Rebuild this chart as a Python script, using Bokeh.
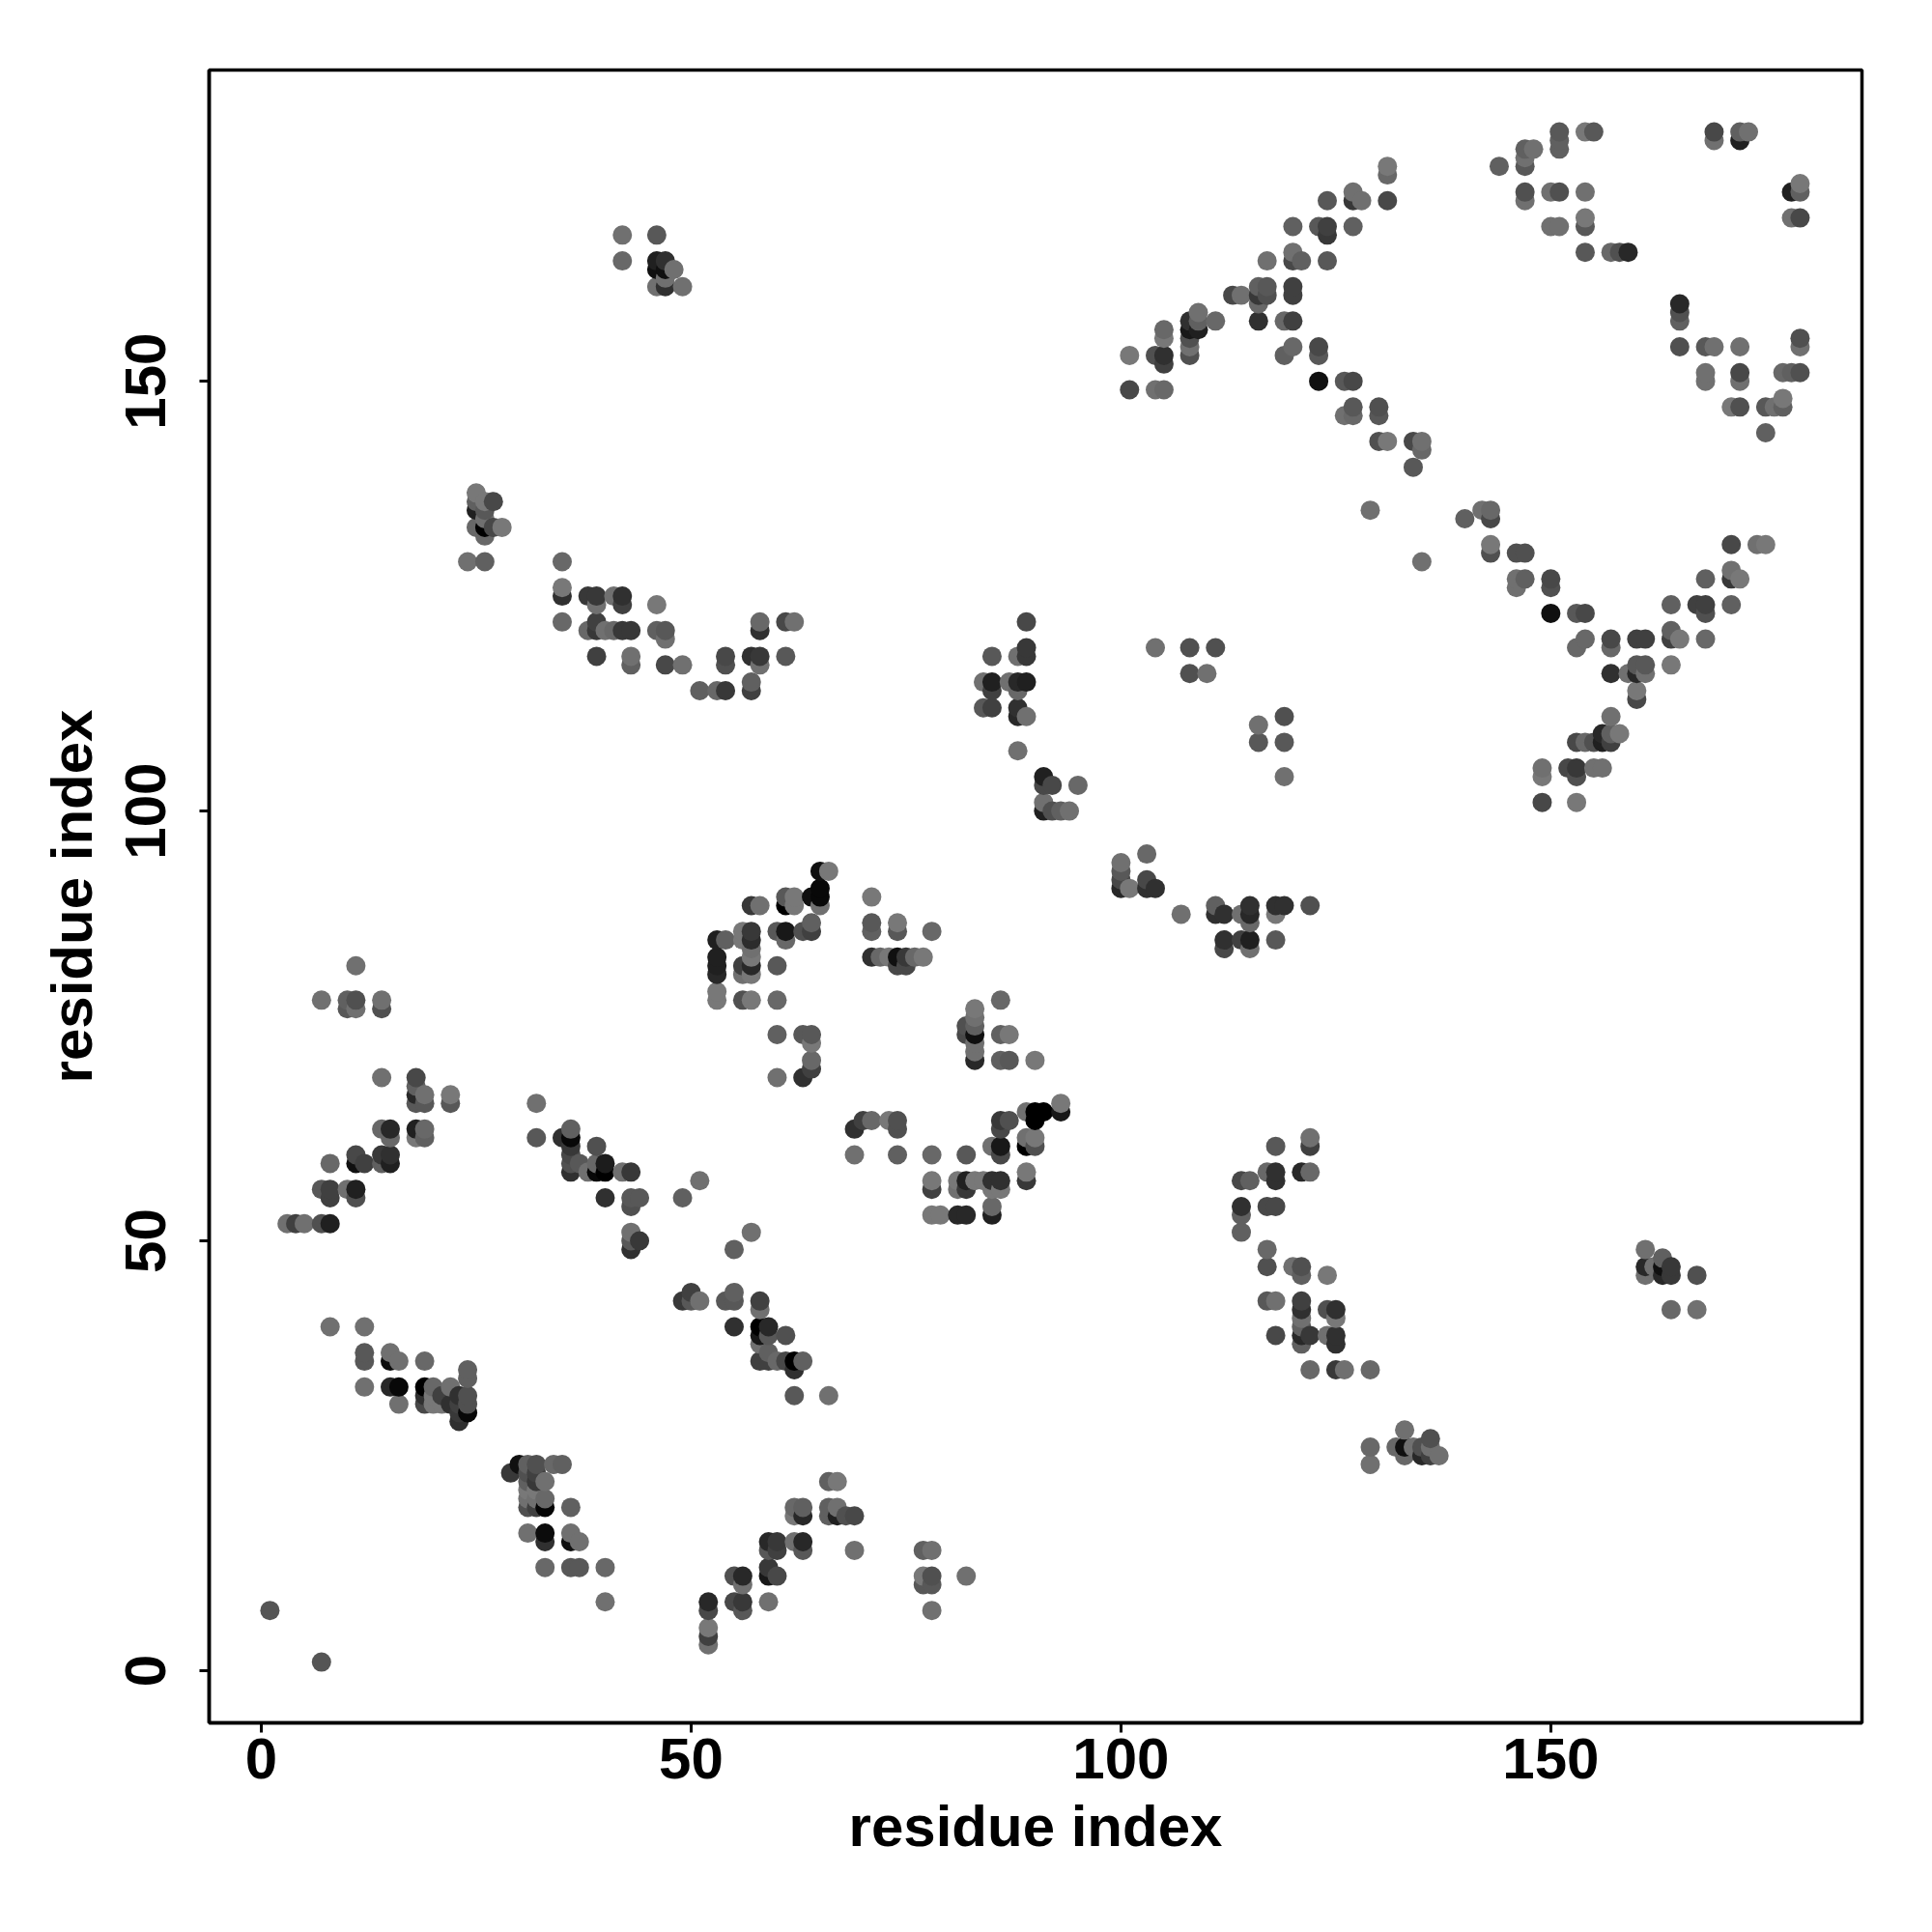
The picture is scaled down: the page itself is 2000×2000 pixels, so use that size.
from bokeh.plotting import figure
from bokeh.models import ColumnDataSource, FixedTicker
from bokeh.embed import file_html
from bokeh.resources import INLINE

AXIS_TICKS = [0, 50, 100, 150]
AXIS_LABEL = "residue index"

# each contact: (residue i, residue j, grey level)
isolated = [(1,7,0x55),(7,1,0x55)]
band_a = [
 (30,24,0x10),(31,24,0x60),(32,24,0x50),(34,24,0x68),(35,24,0x60),(29,23,0x38),(31,23,0x50),(32,23,0x40),
 (31,22,0x60),(32,22,0x38),(33,22,0x70),(31,21,0x78),(32,21,0x78),(31,20,0x70),(32,20,0x70),(33,20,0x68),
 (31,19,0x50),(32,19,0x40),(33,19,0x05),(36,19,0x60),(31,16,0x70),(33,16,0x0c),(36,16,0x70),
 (33,15,0x30),(36,15,0x10),(37,15,0x70),(33,12,0x68),(36,12,0x58),(37,12,0x58),(40,12,0x68),(40,8,0x70),
]
band_b = [
 (8,40,0x70),(12,40,0x70),(12,37,0x58),(15,37,0x70),(12,36,0x58),(15,36,0x0c),(16,36,0x70),(19,36,0x68),
 (24,35,0x60),(24,34,0x60),(12,33,0x70),(15,33,0x28),(16,33,0x08),(19,33,0x00),(20,33,0x68),(22,33,0x70),
 (19,32,0x30),(20,32,0x78),(21,32,0x40),(23,32,0x30),(24,32,0x50),
 (16,31,0x70),(19,31,0x48),(20,31,0x78),(21,31,0x78),(22,31,0x30),(23,31,0x40),(24,31,0x50),
 (23,30,0x38),(24,30,0x08),(23,29,0x30),
]
band_c = [
 (14,69,0x70),(18,69,0x48),(18,68,0x60),(18,67,0x28),(19,67,0x70),(22,67,0x78),(18,66,0x58),(19,66,0x58),(22,66,0x58),
 (14,63,0x68),(15,63,0x28),(18,63,0x20),(19,63,0x68),(15,62,0x68),(18,62,0x78),(19,62,0x60),
 (11,60,0x48),(14,60,0x38),(15,60,0x30),(8,59,0x68),(11,59,0x10),(12,59,0x40),(14,59,0x60),(15,59,0x20),
 (7,56,0x58),(8,56,0x40),(10,56,0x70),(11,56,0x20),(8,55,0x40),(11,55,0x50),
 (3,52,0x70),(4,52,0x40),(5,52,0x70),(7,52,0x50),(8,52,0x20),
]
band_d = [
 (32,66,0x70),(32,62,0x58),(35,62,0x30),(36,63,0x60),(36,62,0x08),(36,61,0x38),(39,61,0x50),(36,60,0x48),
 (36,59,0x50),(37,59,0x58),(39,59,0x68),(40,59,0x1c),(36,58,0x30),(38,58,0x70),(39,58,0x08),(40,58,0x00),(42,58,0x70),(43,58,0x38),
 (40,55,0x30),(43,55,0x58),(44,55,0x58),(43,54,0x50),(43,51,0x70),(43,50,0x58),(44,50,0x38),(43,49,0x30),
 (49,55,0x60),(51,57,0x70),(55,49,0x60),(57,51,0x70),
]
band_e = [
 (50,44,0x40),(49,43,0x38),(50,43,0x58),(51,43,0x70),(54,43,0x58),(55,44,0x60),(55,43,0x58),(58,43,0x40),(58,42,0x70),
 (55,40,0x30),(58,40,0x00),(59,40,0x28),(58,39,0x18),(59,39,0x58),(61,39,0x50),(58,38,0x70),(59,37,0x60),
 (58,36,0x40),(59,36,0x40),(60,36,0x68),(61,36,0x48),(62,36,0x00),(63,36,0x60),(62,35,0x30),(62,32,0x58),(66,32,0x70),
]
band_f = [
 (66,22,0x60),(67,22,0x78),(62,19,0x68),(63,19,0x60),(66,19,0x60),(67,19,0x70),
 (62,18,0x78),(63,18,0x28),(66,18,0x60),(67,18,0x20),(68,18,0x50),(69,18,0x48),
 (59,15,0x28),(60,15,0x38),(62,15,0x70),(63,15,0x28),(59,14,0x58),(60,14,0x40),(63,14,0x58),(69,14,0x70),(77,14,0x60),(78,14,0x70),
 (59,12,0x38),(55,11,0x50),(56,11,0x28),(59,11,0x18),(60,11,0x48),(77,11,0x78),(78,11,0x50),(82,11,0x70),
 (56,10,0x70),(77,10,0x58),(78,10,0x58),(52,8,0x28),(55,8,0x48),(56,8,0x38),(59,8,0x70),
 (52,7,0x48),(56,7,0x58),(78,7,0x70),(52,5,0x78),(52,4,0x40),(52,3,0x70),
]
band_g = [
 (65,93,0x10),(66,93,0x78),(65,91,0x08),(64,90,0x10),(65,90,0x08),(71,90,0x78),(61,90,0x58),(62,90,0x78),
 (57,89,0x38),(58,89,0x70),(61,89,0x00),(62,89,0x78),(65,89,0x70),(64,87,0x60),(71,87,0x58),(74,87,0x78),
 (56,86,0x78),(57,86,0x38),(60,86,0x58),(61,86,0x18),(63,86,0x50),(64,86,0x40),(71,86,0x60),(74,86,0x58),(78,86,0x68),
 (53,85,0x20),(54,85,0x60),(56,85,0x78),(57,85,0x2c),(61,85,0x68),(57,84,0x70),
 (53,83,0x20),(57,83,0x78),(71,83,0x30),(72,83,0x68),(73,83,0x78),(74,83,0x10),(75,83,0x38),(76,83,0x68),(77,83,0x78),
 (53,82,0x20),(56,82,0x40),(57,82,0x28),(60,82,0x58),(74,82,0x48),(75,82,0x48),
 (53,81,0x28),(56,81,0x70),(57,81,0x78),(53,79,0x78),(53,78,0x78),(56,78,0x50),(57,78,0x78),(60,78,0x68),
 (60,74,0x60),(63,74,0x58),(64,74,0x58),(64,73,0x78),(64,71,0x68),(64,70,0x40),(60,69,0x70),(63,69,0x30),
]
band_h = [
 (86,78,0x68),(83,77,0x78),(83,76,0x70),(82,75,0x50),(83,75,0x60),(82,74,0x48),(83,74,0x10),(86,74,0x60),(87,74,0x78),
 (83,73,0x70),(83,72,0x70),(83,71,0x28),(86,71,0x60),(87,71,0x58),(90,71,0x78),
 (93,66,0x78),(89,65,0x70),(90,65,0x00),(91,65,0x00),(93,65,0x18),(70,64,0x40),(71,64,0x68),(73,64,0x78),(74,64,0x50),
 (86,64,0x38),(87,64,0x50),(90,64,0x00),(69,63,0x30),(74,63,0x50),(86,63,0x48),
 (89,62,0x70),(90,62,0x78),(85,61,0x70),(86,61,0x18),(89,61,0x00),(90,61,0x50),
 (69,60,0x70),(74,60,0x60),(78,60,0x68),(82,60,0x58),(86,60,0x48),(89,58,0x78),
 (78,57,0x78),(81,57,0x78),(82,57,0x20),(83,57,0x78),(84,57,0x78),(85,57,0x30),(86,57,0x30),(89,57,0x38),
 (78,56,0x40),(81,56,0x70),(82,56,0x38),(85,56,0x78),(86,56,0x78),(85,54,0x68),
 (78,53,0x78),(79,53,0x78),(81,53,0x28),(82,53,0x28),(85,53,0x20),
]
band_i = [
 (42,167,0x70),(46,167,0x58),(42,164,0x68),(46,164,0x20),(47,164,0x30),(46,163,0x10),(47,163,0x10),(48,163,0x70),
 (47,162,0x70),(46,161,0x70),(47,161,0x30),(49,161,0x70),
 (25,137,0x78),(25,136,0x60),(25,135,0x20),(27,136,0x48),(26,136,0x78),(26,135,0x58),(25,133,0x68),(26,133,0x00),
 (27,133,0x48),(28,133,0x78),(26,134,0x70),(26,132,0x68),(24,129,0x70),(26,129,0x60),
 (11,82,0x70),(7,78,0x70),(10,78,0x60),(11,78,0x50),(14,78,0x70),(10,77,0x58),(11,77,0x70),(14,77,0x50),
]
band_j = [
 (35,129,0x68),(35,126,0x78),(35,125,0x30),(35,122,0x68),(38,125,0x38),(39,125,0x38),(39,124,0x70),(41,125,0x70),(42,125,0x30),(42,124,0x40),(46,124,0x78),
 (39,122,0x40),(38,121,0x68),(39,121,0x38),(40,121,0x70),(41,121,0x68),(42,121,0x38),(43,121,0x38),(46,121,0x60),(47,121,0x58),(47,120,0x70),
 (39,118,0x40),(43,118,0x70),(43,117,0x60),(47,117,0x48),(49,117,0x70),(54,118,0x48),(54,117,0x50),(57,118,0x30),(58,118,0x38),(58,117,0x70),
 (58,122,0x68),(58,121,0x30),(61,122,0x48),(62,122,0x70),(61,118,0x58),
 (51,114,0x60),(53,114,0x68),(54,114,0x38),(57,115,0x60),(57,114,0x40),
]
band_k = [
 (89,122,0x48),(85,118,0x58),(88,118,0x70),(89,119,0x38),(89,118,0x38),(84,115,0x70),(85,115,0x20),(87,115,0x70),(88,115,0x28),(89,115,0x20),
 (85,114,0x40),(88,114,0x68),(84,112,0x58),(85,112,0x40),(88,112,0x30),(88,111,0x28),(89,111,0x70),(88,107,0x70),
 (91,104,0x20),(91,103,0x48),(92,103,0x48),(95,103,0x68),(91,101,0x70),(91,100,0x20),(92,100,0x50),(93,100,0x60),(94,100,0x70),
 (100,94,0x70),(100,93,0x58),(100,92,0x48),(100,91,0x28),(101,91,0x78),(103,95,0x68),(103,92,0x48),(103,91,0x30),(104,91,0x30),
 (107,88,0x70),(111,89,0x60),(111,88,0x30),(112,88,0x30),(114,88,0x70),(115,89,0x30),(115,88,0x28),(115,87,0x68),(118,89,0x30),(118,88,0x78),(119,89,0x30),(122,89,0x50),
 (112,85,0x30),(112,84,0x48),(114,85,0x40),(115,85,0x20),(115,84,0x70),(118,85,0x58),
 (104,119,0x70),(108,119,0x50),(111,119,0x50),(108,116,0x50),(110,116,0x70),
 (116,110,0x70),(119,111,0x50),(116,108,0x58),(119,108,0x58),(119,104,0x70),(129,135,0x70),(135,129,0x70),
]
band_l = [
 (131,175,0x78),(144,175,0x60),(131,174,0x68),(127,172,0x70),(124,171,0x58),(127,171,0x38),(128,171,0x70),(131,171,0x48),
 (120,168,0x60),(123,168,0x58),(124,168,0x40),(127,168,0x60),(124,167,0x38),(120,165,0x70),
 (117,164,0x70),(120,164,0x48),(121,164,0x60),(124,164,0x58),(116,161,0x60),(117,161,0x58),(120,161,0x40),
 (113,160,0x48),(114,160,0x70),(116,160,0x38),(117,160,0x50),(120,160,0x40),(116,159,0x68),(109,158,0x70),
 (108,157,0x30),(109,157,0x60),(111,157,0x68),(116,157,0x30),(119,157,0x68),(120,157,0x40),
 (105,156,0x68),(108,156,0x18),(109,156,0x20),(105,155,0x78),(108,155,0x50),(108,154,0x70),(120,154,0x68),(123,154,0x48),
 (101,153,0x78),(104,153,0x50),(105,153,0x30),(108,153,0x50),(119,153,0x60),(123,153,0x58),(105,152,0x40),
 (123,150,0x10),(126,150,0x58),(127,150,0x48),(101,149,0x48),(104,149,0x70),(105,149,0x68),
 (127,147,0x58),(130,147,0x50),(126,146,0x70),(127,146,0x68),(130,146,0x58),
 (130,143,0x50),(131,143,0x78),(134,143,0x48),(135,143,0x70),(135,142,0x68),(134,140,0x58),
]
band_m = [
 (142,135,0x70),(143,135,0x68),(140,134,0x60),(143,134,0x48),(143,131,0x78),(171,131,0x48),(174,131,0x70),(175,131,0x78),
 (143,130,0x50),(146,130,0x50),(147,130,0x50),(171,128,0x70),(146,127,0x70),(147,127,0x60),(150,127,0x48),(168,127,0x60),(171,127,0x38),(172,127,0x78),
 (146,126,0x70),(150,126,0x50),(164,124,0x60),(167,124,0x40),(168,124,0x40),(171,124,0x60),
 (150,123,0x10),(153,123,0x58),(154,123,0x48),(168,123,0x50),(164,121,0x60),
 (154,120,0x68),(157,120,0x48),(160,120,0x40),(161,120,0x40),(164,120,0x40),(165,120,0x78),(168,120,0x68),
 (153,119,0x68),(157,119,0x68),(160,117,0x58),(161,117,0x58),(164,117,0x78),
 (157,116,0x30),(159,116,0x70),(160,116,0x28),(161,116,0x70),(160,114,0x78),(160,113,0x48),(157,111,0x70),
 (156,109,0x28),(157,109,0x60),(158,109,0x78),(156,108,0x20),(157,108,0x40),(155,108,0x50),(154,108,0x68),(153,108,0x48),
 (149,105,0x70),(152,105,0x48),(153,105,0x38),(155,105,0x70),(156,105,0x70),(149,104,0x78),(153,104,0x50),(149,101,0x48),(153,101,0x78),
]
band_n = [
 (151,179,0x58),(151,178,0x60),(151,177,0x60),(154,179,0x78),(155,179,0x58),(147,177,0x60),(148,177,0x70),(147,176,0x70),(147,175,0x58),
 (147,172,0x50),(147,171,0x70),(150,172,0x70),(151,172,0x50),(154,172,0x70),(150,168,0x70),(151,168,0x70),(154,169,0x78),(154,168,0x58),
 (154,165,0x58),(157,165,0x68),(158,165,0x50),(159,165,0x28),(169,179,0x48),(169,178,0x70),(172,179,0x60),(172,178,0x20),(173,179,0x70),
 (179,173,0x78),(178,172,0x20),(179,172,0x60),(178,169,0x70),(179,169,0x48),
 (165,159,0x28),(165,158,0x50),(165,157,0x60),(165,154,0x50),(168,154,0x58),(169,154,0x70),(172,154,0x70),(179,155,0x50),(179,154,0x70),
 (168,151,0x70),(168,150,0x70),(172,151,0x48),(172,150,0x70),(177,151,0x68),(178,151,0x60),(179,151,0x50),
 (171,147,0x78),(172,147,0x50),(175,147,0x58),(176,147,0x70),(177,148,0x78),(177,147,0x60),(175,144,0x60),
]
band_o = [
 (122,62,0x70),(118,61,0x58),(122,61,0x40),(117,58,0x68),(118,58,0x30),(121,58,0x28),(122,58,0x68),(114,57,0x48),(115,57,0x60),(118,57,0x30),
 (114,54,0x30),(117,54,0x48),(118,54,0x48),(114,53,0x60),(114,51,0x60),(117,49,0x68),(117,47,0x50),(120,47,0x70),(121,47,0x50),(121,46,0x60),(124,46,0x78),
 (117,43,0x58),(118,43,0x70),(121,43,0x40),(121,42,0x30),(124,42,0x50),(125,42,0x30),(121,41,0x70),(125,41,0x78),(121,40,0x60),
 (118,39,0x48),(121,39,0x28),(122,39,0x38),(124,39,0x70),(125,39,0x30),(121,38,0x60),(125,38,0x30),
 (122,35,0x68),(125,35,0x38),(126,35,0x70),(129,35,0x68),
]
band_p = [
 (129,26,0x68),(129,24,0x70),(132,26,0x68),(133,28,0x70),(133,26,0x10),(133,25,0x68),(134,26,0x70),(135,26,0x50),(135,25,0x28),
 (136,27,0x50),(136,26,0x70),(136,25,0x40),(137,25,0x70),
 (161,49,0x70),(161,47,0x28),(161,46,0x70),(162,47,0x70),(163,48,0x60),(163,47,0x10),(163,46,0x28),(164,47,0x38),(164,46,0x38),(167,46,0x50),(164,42,0x68),(167,42,0x70),
]

contacts = sorted(isolated + band_a + band_b + band_c + band_d + band_e + band_f + band_g + band_h
                  + band_i + band_j + band_k + band_l + band_m + band_n + band_o + band_p,
                  key=lambda c: (c[0], c[1]))
source = ColumnDataSource(dict(
    x=[c[0] for c in contacts],
    y=[c[1] for c in contacts],
    color=["#%02x%02x%02x" % (c[2], c[2], c[2]) for c in contacts],
))

p = figure(width=1984, height=1984, output_backend="svg", toolbar_location=None,
           x_range=(-6.07, 186.2), y_range=(-6.07, 186.2),
           min_border_left=216, min_border_right=57, min_border_top=72, min_border_bottom=201,
           background_fill_color="white", border_fill_color="white")
p.grid.visible = False
p.outline_line_color = "black"
p.outline_line_width = 3.5
p.outline_line_alpha = 1

p.scatter("x", "y", source=source, size=20, color="color", line_color=None)

for ax in (p.xaxis[0], p.yaxis[0]):
    ax.ticker = FixedTicker(ticks=AXIS_TICKS)
    ax.axis_label = AXIS_LABEL
    ax.axis_label_text_font = "Liberation Sans"
    ax.axis_label_text_font_style = "bold"
    ax.axis_label_text_font_size = "60px"
    ax.axis_label_text_color = "black"
    ax.major_label_text_font = "Liberation Sans"
    ax.major_label_text_font_style = "bold"
    ax.major_label_text_font_size = "60px"
    ax.major_label_text_color = "black"
    ax.axis_line_color = "black"
    ax.axis_line_width = 3.5
    ax.major_tick_line_color = "black"
    ax.major_tick_line_width = 3
    ax.major_tick_in = 0
    ax.major_tick_out = 10
    ax.minor_tick_line_color = None
p.xaxis[0].major_label_standoff = 6
p.xaxis[0].axis_label_standoff = 13
p.yaxis[0].major_label_standoff = 35
p.yaxis[0].axis_label_standoff = 20
p.yaxis[0].major_label_orientation = "vertical"

open("out.html", "w").write(file_html(p, INLINE))
